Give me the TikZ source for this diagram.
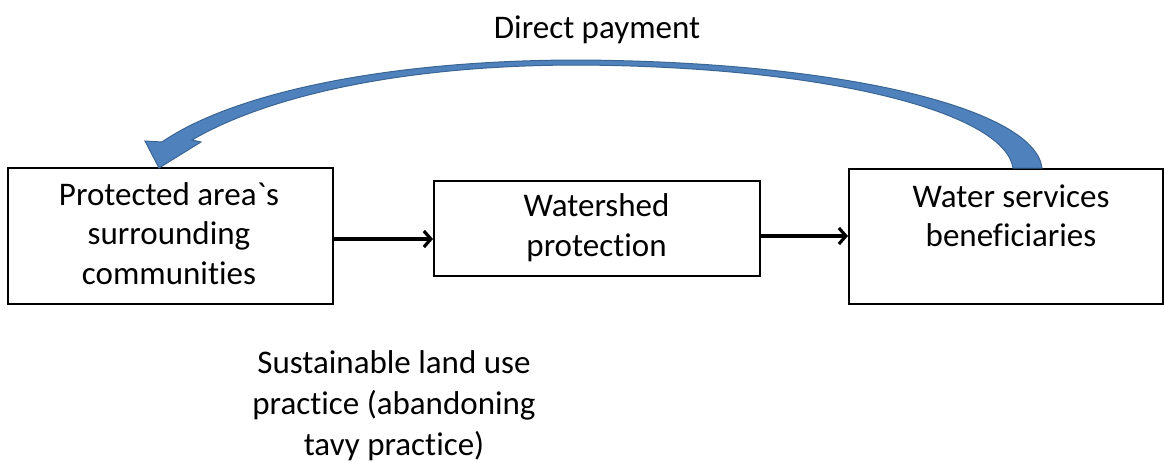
\documentclass[tikz,border=0pt]{standalone}
\usepackage{fontspec}
\setmainfont{Carlito}[Ligatures={NoCommon,TeXOff}]
\usetikzlibrary{arrows.meta}
\definecolor{arrowfill}{HTML}{4F81BD}
\definecolor{arrowline}{HTML}{3A6593}
\begin{document}
\begin{tikzpicture}[x=1pt,y=-1pt,
  box/.style={draw=black,line width=2pt,rectangle,inner sep=0pt},
  txt/.style={align=center,anchor=base,inner sep=0pt,font=\fontsize{33}{39.5}\selectfont},
  link/.style={line width=3.2pt,-{Straight Barb[length=7pt,width=16pt]}}]
\useasboundingbox (0,0) rectangle (1164,461);
% boxes
\node[box,minimum width=325pt,minimum height=136pt] (b1) at (170.5,236) {};
\node[box,minimum width=326pt,minimum height=95pt] (b2) at (597,228.5) {};
\node[box,minimum width=314pt,minimum height=135pt] (b3) at (1006,236.5) {};
% texts (anchored at the baseline of the last line)
\node[txt] (t1) at (169,284) {Protected area`s\\surrounding\\communities};
\node[txt] (t2) at (596.5,256) {Watershed\\protection};
\node[txt] (t3) at (1011,246.5) {Water services\\beneficiaries};
\node[txt,font=\fontsize{33}{41}\selectfont] (t4) at (394,455) {Sustainable land use\\practice (abandoning\\tavy practice)};
\node[txt] (t5) at (597,38) {Direct payment};
% connectors
\draw[link] (b1.east |- 0,239) -- (b2.west |- 0,239);
\draw[link] (b2.east |- 0,236) -- (b3.west |- 0,236);
% curved arrow
\coordinate (tailO) at (1042,168);
\coordinate (tailI) at (1013,168);
\coordinate (topO) at (580,60);
\coordinate (topI) at (580,65);
\coordinate (headO) at (162,142);
\coordinate (headI) at (192,140);
\coordinate (barbL) at (145,141);
\coordinate (barbR) at (201,142);
\coordinate (tip) at (159,168);
\filldraw[fill=arrowfill,draw=arrowline,line width=1pt,line join=miter]
  (tailO) .. controls (1035,110) and (850,62) .. (topO)
  .. controls (380,60) and (230,95) .. (headO)
  -- (barbL) -- (tip) -- (barbR) -- (headI)
  .. controls (260,100) and (390,65) .. (topI)
  .. controls (840,67) and (1005,115) .. (tailI) -- cycle;
\end{tikzpicture}
\end{document}
